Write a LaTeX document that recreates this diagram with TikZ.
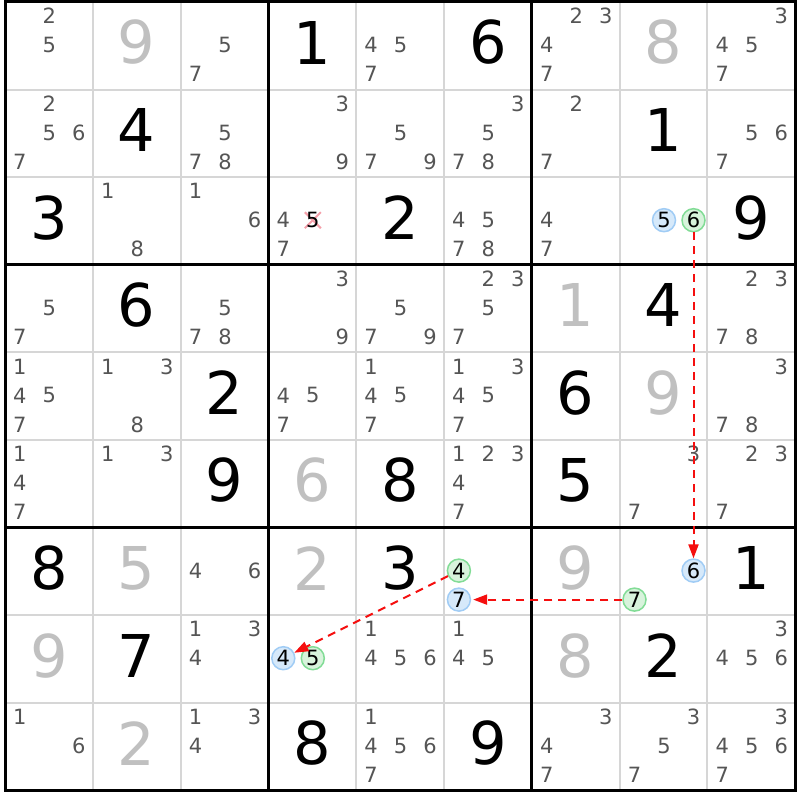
\documentclass[tikz,border=0pt]{standalone}
\usepackage{fontspec}
\setmainfont{DejaVu Sans}
\usetikzlibrary{arrows.meta}
\definecolor{candgray}{RGB}{85,85,85}
\definecolor{solvedgray}{RGB}{192,192,192}
\definecolor{thingrid}{RGB}{214,214,214}
\definecolor{bluefill}{RGB}{214,233,250}
\definecolor{bluedraw}{RGB}{160,204,245}
\definecolor{greenfill}{RGB}{216,243,220}
\definecolor{greendraw}{RGB}{130,220,150}
\definecolor{chainred}{RGB}{245,15,15}
\definecolor{crosspink}{RGB}{245,160,170}
\newcommand\givenat[4]{%
  \pgfmathsetmacro\gx{5+87.8*(#2-0.5)}%
  \pgfmathsetmacro\gy{2+87.6*(#1-0.5)-3.3}%
  \node[#4] (v#1#2) at (\gx,\gy) {#3};}
\newcommand\candat[4]{%
  \pgfmathsetmacro\gx{5+87.8*(#2-0.5)+0.5+29.5*(mod(#3-1,3)-1)}%
  \pgfmathsetmacro\gy{2+87.6*(#1-0.5)-0.8+29*(floor((#3-1)/3)-1)}%
  \node[#4] (k#1#2#3) at (\gx,\gy) {#3};}
\newcommand\cands[3]{\foreach \dd in {#3}{\candat{#1}{#2}{\dd}{cand}}}
\begin{document}
\begin{tikzpicture}[x=1pt,y=-1pt,
  bigdigit/.style={font=\fontsize{59}{62}\selectfont, inner sep=0pt, text=black},
  solved/.style={bigdigit, text=solvedgray},
  cand/.style={font=\fontsize{21}{23}\selectfont, inner sep=0pt, text=candgray},
  bluec/.style={cand, text=black, circle, draw=bluedraw, fill=bluefill, line width=1.5pt, minimum size=23pt},
  greenc/.style={cand, text=black, circle, draw=greendraw, fill=greenfill, line width=1.5pt, minimum size=23pt},
  thingridline/.style={draw=thingrid, line width=2pt},
  thickgridline/.style={draw=black, line width=3pt},
  chain/.style={draw=chainred, line width=2pt, dash pattern=on 8pt off 6pt, -{Triangle[length=14pt,width=10pt]}},
  crossx/.style={draw=crosspink, line width=2pt}]
\useasboundingbox[fill=white] (0,0) rectangle (800,800);
% grid
\foreach \i in {1,2,4,5,7,8}{
  \draw[thingridline] ({5+87.8*\i},2) -- ({5+87.8*\i},790.4);
  \draw[thingridline] (5,{2+87.6*\i}) -- (795.2,{2+87.6*\i});
}
\foreach \i in {3,6}{
  \draw[thickgridline] ({5+87.8*\i},2) -- ({5+87.8*\i},790.4);
  \draw[thickgridline] (5,{2+87.6*\i}) -- (795.2,{2+87.6*\i});
}
\draw[thickgridline] (5,2) rectangle (795.2,790.4);
% row 1
\cands{1}{1}{2,5}
\givenat{1}{2}{9}{solved}
\cands{1}{3}{5,7}
\givenat{1}{4}{1}{bigdigit}
\cands{1}{5}{4,5,7}
\givenat{1}{6}{6}{bigdigit}
\cands{1}{7}{2,3,4,7}
\givenat{1}{8}{8}{solved}
\cands{1}{9}{3,4,5,7}
% row 2
\cands{2}{1}{2,5,6,7}
\givenat{2}{2}{4}{bigdigit}
\cands{2}{3}{5,7,8}
\cands{2}{4}{3,9}
\cands{2}{5}{5,7,9}
\cands{2}{6}{3,5,7,8}
\cands{2}{7}{2,7}
\givenat{2}{8}{1}{bigdigit}
\cands{2}{9}{5,6,7}
% row 3
\givenat{3}{1}{3}{bigdigit}
\cands{3}{2}{1,8}
\cands{3}{3}{1,6}
\cands{3}{4}{4,7}
\draw[crossx] (304.8,212.2) -- (320.8,228.2);
\draw[crossx] (304.8,228.2) -- (320.8,212.2);
\candat{3}{4}{5}{cand,text=black}
\givenat{3}{5}{2}{bigdigit}
\cands{3}{6}{4,5,7,8}
\cands{3}{7}{4,7}
\candat{3}{8}{5}{bluec}
\candat{3}{8}{6}{greenc}
\givenat{3}{9}{9}{bigdigit}
% row 4
\cands{4}{1}{5,7}
\givenat{4}{2}{6}{bigdigit}
\cands{4}{3}{5,7,8}
\cands{4}{4}{3,9}
\cands{4}{5}{5,7,9}
\cands{4}{6}{2,3,5,7}
\givenat{4}{7}{1}{solved}
\givenat{4}{8}{4}{bigdigit}
\cands{4}{9}{2,3,7,8}
% row 5
\cands{5}{1}{1,4,5,7}
\cands{5}{2}{1,3,8}
\givenat{5}{3}{2}{bigdigit}
\cands{5}{4}{4,5,7}
\cands{5}{5}{1,4,5,7}
\cands{5}{6}{1,3,4,5,7}
\givenat{5}{7}{6}{bigdigit}
\givenat{5}{8}{9}{solved}
\cands{5}{9}{3,7,8}
% row 6
\cands{6}{1}{1,4,7}
\cands{6}{2}{1,3}
\givenat{6}{3}{9}{bigdigit}
\givenat{6}{4}{6}{solved}
\givenat{6}{5}{8}{bigdigit}
\cands{6}{6}{1,2,3,4,7}
\givenat{6}{7}{5}{bigdigit}
\cands{6}{8}{3,7}
\cands{6}{9}{2,3,7}
% row 7
\givenat{7}{1}{8}{bigdigit}
\givenat{7}{2}{5}{solved}
\cands{7}{3}{4,6}
\givenat{7}{4}{2}{solved}
\givenat{7}{5}{3}{bigdigit}
\candat{7}{6}{4}{greenc}
\candat{7}{6}{7}{bluec}
\givenat{7}{7}{9}{solved}
\candat{7}{8}{6}{bluec}
\candat{7}{8}{7}{greenc}
\givenat{7}{9}{1}{bigdigit}
% row 8
\givenat{8}{1}{9}{solved}
\givenat{8}{2}{7}{bigdigit}
\cands{8}{3}{1,3,4}
\candat{8}{4}{4}{bluec}
\candat{8}{4}{5}{greenc}
\cands{8}{5}{1,4,5,6}
\cands{8}{6}{1,4,5}
\givenat{8}{7}{8}{solved}
\givenat{8}{8}{2}{bigdigit}
\cands{8}{9}{3,4,5,6}
% row 9
\cands{9}{1}{1,6}
\givenat{9}{2}{2}{solved}
\cands{9}{3}{1,3,4}
\givenat{9}{4}{8}{bigdigit}
\cands{9}{5}{1,4,5,6,7}
\givenat{9}{6}{9}{bigdigit}
\cands{9}{7}{3,4,7}
\cands{9}{8}{3,5,7}
\cands{9}{9}{3,4,5,6,7}
% chain
\draw[chain] (k386) -- (k786);
\draw[chain, shorten >=2pt] (k787) -- (k767);
\draw[chain] (k764) -- (k844);
\end{tikzpicture}
\end{document}
